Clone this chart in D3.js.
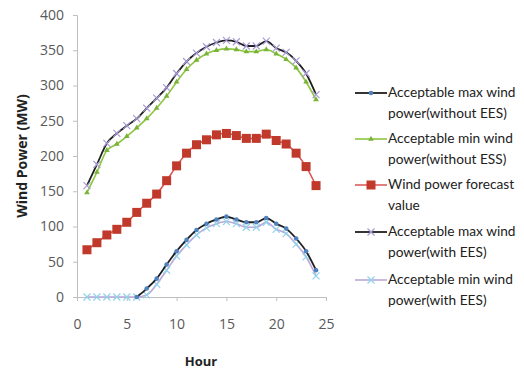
<!DOCTYPE html>
<html><head><meta charset="utf-8">
<script src="https://cdn.jsdelivr.net/npm/d3@7"></script>
<style>body{margin:0;background:#fff}svg{display:block}</style>
</head><body><svg id="c" width="524" height="372"></svg>
<script>
const hours = d3.range(1, 25);
const xTicks = [0, 5, 10, 15, 20, 25];
const yTicks = [0, 50, 100, 150, 200, 250, 300, 350, 400];
// bottom black line with blue dots
const maxWithoutEES = [null,null,null,null,null,0,12,26,46,65,81,95,104,110,114,110,106,106,112,104,97,83,65,38];
// green line
const minWithoutESS = [148,177,208,217,228,240,253,268,285,305,323,336,345,350,352,351,348,348,351,345,337,325,305,280];
// red squares
const forecast = [67,77,88,96,106,120,133,146,165,186,204,216,223,230,232,229,225,225,231,222,217,204,185,158];
// top black line with lavender X
const maxWithEES = [158,188,218,232,243,253,268,282,297,317,334,346,355,361,364,362,356,356,363,353,347,335,317,287];
// lavender line with light blue X
const minWithEES = [0,0,0,0,0,0,3,18,38,58,74,88,98,104,107,104,99,99,106,96,90,75,57,30];
const legendLabels = [
  ["Acceptable max wind", "power(without EES)"],
  ["Acceptable min wind", "power(without ESS)"],
  ["Wind power forecast", "value"],
  ["Acceptable max wind", "power(with EES)"],
  ["Acceptable min wind", "power(with EES)"]
];

const svg = d3.select("#c");
const font = "Lato, 'Open Sans', sans-serif";
const tickFont = "'Open Sans', sans-serif";
const x = d3.scaleLinear().domain([0, 25]).range([77, 326]);
const y = d3.scaleLinear().domain([0, 400]).range([297, 15]);

// axes
const yAx = svg.append("g").attr("transform", "translate(77,0)")
  .call(d3.axisLeft(y).tickValues(yTicks).tickSize(4).tickPadding(9));
const xAx = svg.append("g").attr("transform", "translate(0,297)")
  .call(d3.axisBottom(x).tickValues(xTicks).tickSize(4).tickPadding(18));
[yAx, xAx].forEach(g => {
  g.select(".domain").attr("stroke", "#bfbfbf");
  g.selectAll(".tick line").attr("stroke", "#bfbfbf");
  g.selectAll("text").attr("fill", "#595959").style("font-family", tickFont).style("font-size", "14px");
});

svg.append("text").attr("x", 201).attr("y", 366).attr("text-anchor", "middle")
  .style("font-family", tickFont).style("font-size", "13px").style("font-weight", "bold").attr("fill", "#222").text("Hour");
svg.append("text").attr("transform", "translate(27,156) rotate(-90)").attr("text-anchor", "middle")
  .style("font-family", tickFont).style("font-size", "14px").style("font-weight", "bold").attr("fill", "#222").text("Wind Power (MW)");

const styles = [
  {data: maxWithoutEES, line: "#1f1f1f", lw: 1.8, marker: "dot", mc: "#4f81bd"},
  {data: minWithoutESS, line: "#8dc63f", lw: 1.6, marker: "tri", mc: "#7ab23a"},
  {data: forecast, line: "#d9534f", lw: 1.5, marker: "square", mc: "#c0392b"},
  {data: maxWithEES, line: "#1f1f1f", lw: 1.8, marker: "x", mc: "#a99bd6"},
  {data: minWithEES, line: "#b9a7d9", lw: 1.6, marker: "x", mc: "#8fd3ec"}
];
const drawOrder = [2, 1, 3, 4, 0];

function drawMarker(g, type, cx, cy, color) {
  if (type === "dot") g.append("circle").attr("cx", cx).attr("cy", cy).attr("r", 2.3).attr("fill", color);
  else if (type === "tri") g.append("path").attr("d", d3.symbol(d3.symbolTriangle, 14)()).attr("transform", `translate(${cx},${cy})`).attr("fill", color);
  else if (type === "square") g.append("rect").attr("x", cx - 4.5).attr("y", cy - 4.5).attr("width", 9).attr("height", 9).attr("fill", color);
  else if (type === "x") g.append("path").attr("d", `M${cx-3.5},${cy-3.5}L${cx+3.5},${cy+3.5}M${cx-3.5},${cy+3.5}L${cx+3.5},${cy-3.5}`).attr("stroke", color).attr("stroke-width", 1.2);
}

const line = d3.line().defined(d => d.v !== null).x(d => x(d.h)).y(d => y(d.v)).curve(d3.curveMonotoneX);
drawOrder.forEach(i => {
  const s = styles[i];
  const pts = hours.map((h, k) => ({h, v: s.data[k]}));
  const g = svg.append("g");
  g.append("path").attr("d", line(pts)).attr("fill", "none").attr("stroke", s.line).attr("stroke-width", s.lw);
  pts.filter(p => p.v !== null).forEach(p => drawMarker(g, s.marker, x(p.h), y(p.v), s.mc));
});

// legend
const legY = [93, 139, 185, 232, 280];
legendLabels.forEach((lab, i) => {
  const s = styles[i];
  const g = svg.append("g");
  g.append("line").attr("x1", 355).attr("x2", 387).attr("y1", legY[i]).attr("y2", legY[i]).attr("stroke", s.line).attr("stroke-width", s.lw);
  drawMarker(g, s.marker, 371, legY[i], s.mc);
  const t = g.append("text").style("font-family", font).style("font-size", "13.7px").attr("fill", "#222");
  t.append("tspan").attr("x", 388).attr("y", legY[i] + 4).text(lab[0]);
  t.append("tspan").attr("x", 388).attr("y", legY[i] + 25).text(lab[1]);
});
</script></body></html>
